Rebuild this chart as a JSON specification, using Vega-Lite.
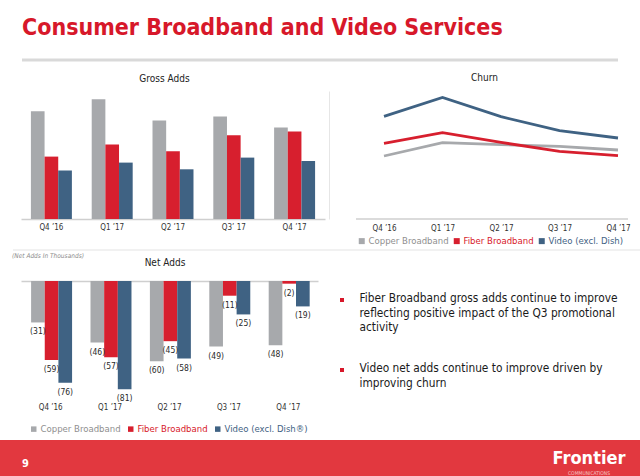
{
  "$schema": "https://vega.github.io/schema/vega-lite/v6.json",
  "background": "#ffffff",
  "padding": {"left": 0, "right": 0, "top": 16, "bottom": 0},
  "spacing": 0,
  "config": {
    "font": "DejaVu Sans Condensed, DejaVu Sans",
    "view": {"stroke": null},
    "title": {"fontWeight": "normal", "color": "#222222", "fontSize": 10},
    "axis": {"labelColor": "#333333", "labelFontSize": 8, "ticks": false, "tickSize": 0, "grid": false, "title": null, "domainColor": "#cfcfcf", "domainWidth": 1.5},
    "legend": {"title": null, "symbolType": "square", "symbolStrokeWidth": 0, "labelFontSize": 9.5, "labelOffset": 2, "columnPadding": 3, "direction": "horizontal", "orient": "none"},
    "concat": {"spacing": 0}
  },
  "datasets": {
    "gross": [
      {"quarter": "Q4 ’16", "series": "Copper Broadband", "value": 107.7},
      {"quarter": "Q4 ’16", "series": "Fiber Broadband", "value": 62.4},
      {"quarter": "Q4 ’16", "series": "Video (excl. Dish)", "value": 48.4},
      {"quarter": "Q1 ’17", "series": "Copper Broadband", "value": 119.7},
      {"quarter": "Q1 ’17", "series": "Fiber Broadband", "value": 74.4},
      {"quarter": "Q1 ’17", "series": "Video (excl. Dish)", "value": 56.4},
      {"quarter": "Q2 ’17", "series": "Copper Broadband", "value": 98.4},
      {"quarter": "Q2 ’17", "series": "Fiber Broadband", "value": 67.7},
      {"quarter": "Q2 ’17", "series": "Video (excl. Dish)", "value": 49.7},
      {"quarter": "Q3’ 17", "series": "Copper Broadband", "value": 102.4},
      {"quarter": "Q3’ 17", "series": "Fiber Broadband", "value": 83.7},
      {"quarter": "Q3’ 17", "series": "Video (excl. Dish)", "value": 61.4},
      {"quarter": "Q4 ’17", "series": "Copper Broadband", "value": 91.4},
      {"quarter": "Q4 ’17", "series": "Fiber Broadband", "value": 87.4},
      {"quarter": "Q4 ’17", "series": "Video (excl. Dish)", "value": 58.0}
    ],
    "churn": [
      {"quarter": "Q4 ’16", "series": "Copper Broadband", "value": 63.0},
      {"quarter": "Q1 ’17", "series": "Copper Broadband", "value": 76.3},
      {"quarter": "Q2 ’17", "series": "Copper Broadband", "value": 74.3},
      {"quarter": "Q3 ’17", "series": "Copper Broadband", "value": 72.6},
      {"quarter": "Q4 ’17", "series": "Copper Broadband", "value": 69.0},
      {"quarter": "Q4 ’16", "series": "Fiber Broadband", "value": 75.6},
      {"quarter": "Q1 ’17", "series": "Fiber Broadband", "value": 86.3},
      {"quarter": "Q2 ’17", "series": "Fiber Broadband", "value": 76.6},
      {"quarter": "Q3 ’17", "series": "Fiber Broadband", "value": 67.6},
      {"quarter": "Q4 ’17", "series": "Fiber Broadband", "value": 63.3},
      {"quarter": "Q4 ’16", "series": "Video (excl. Dish)", "value": 102.6},
      {"quarter": "Q1 ’17", "series": "Video (excl. Dish)", "value": 121.6},
      {"quarter": "Q2 ’17", "series": "Video (excl. Dish)", "value": 102.3},
      {"quarter": "Q3 ’17", "series": "Video (excl. Dish)", "value": 88.3},
      {"quarter": "Q4 ’17", "series": "Video (excl. Dish)", "value": 81.0}
    ],
    "net": [
      {"quarter": "Q4 ’16", "series": "Copper Broadband", "value": -31},
      {"quarter": "Q4 ’16", "series": "Fiber Broadband", "value": -59},
      {"quarter": "Q4 ’16", "series": "Video (excl. Dish)", "value": -76},
      {"quarter": "Q1 ’17", "series": "Copper Broadband", "value": -46},
      {"quarter": "Q1 ’17", "series": "Fiber Broadband", "value": -57},
      {"quarter": "Q1 ’17", "series": "Video (excl. Dish)", "value": -81},
      {"quarter": "Q2 ’17", "series": "Copper Broadband", "value": -60},
      {"quarter": "Q2 ’17", "series": "Fiber Broadband", "value": -45},
      {"quarter": "Q2 ’17", "series": "Video (excl. Dish)", "value": -58},
      {"quarter": "Q3 ’17", "series": "Copper Broadband", "value": -49},
      {"quarter": "Q3 ’17", "series": "Fiber Broadband", "value": -11},
      {"quarter": "Q3 ’17", "series": "Video (excl. Dish)", "value": -25},
      {"quarter": "Q4 ’17", "series": "Copper Broadband", "value": -48},
      {"quarter": "Q4 ’17", "series": "Fiber Broadband", "value": -2},
      {"quarter": "Q4 ’17", "series": "Video (excl. Dish)", "value": -19}
    ],
    "bullets": [
      {"item": 1, "text": "Fiber Broadband gross adds continue to improve\nreflecting positive impact of the Q3 promotional\nactivity"},
      {"item": 2, "text": "Video net adds continue to improve driven by\nimproving churn"}
    ]
  },
  "resolve": {"scale": {"color": "independent"}, "legend": {"color": "independent"}},
  "vconcat": [
    {
      "width": 640,
      "height": 12,
      "title": {"text": "Consumer Broadband and Video Services", "anchor": "start", "dx": 22, "fontSize": 23, "fontWeight": "bold", "color": "#d7182a", "baseline": "alphabetic", "offset": 1},
      "data": {"values": [{"start": 0, "end": 1}]},
      "mark": {"type": "rule", "color": "#d9d9d9", "strokeWidth": 3},
      "encoding": {
        "x": {"field": "start", "type": "quantitative", "scale": {"domain": [0, 1], "range": [22, 618]}, "axis": null},
        "x2": {"field": "end"},
        "y": {"datum": 1, "type": "quantitative", "scale": {"domain": [0, 1]}, "axis": null}
      }
    },
    {
      "spacing": 0,
      "resolve": {"scale": {"color": "independent"}, "legend": {"color": "independent"}},
      "hconcat": [
        {
          "width": 329,
          "height": 128,
          "title": {"text": "Gross Adds", "baseline": "alphabetic", "offset": -0.5},
          "data": {"name": "gross"},
          "mark": {"type": "bar"},
          "encoding": {
            "x": {"field": "quarter", "type": "nominal", "sort": null, "scale": {"range": [21, 325], "paddingInner": 0.326, "paddingOuter": 0.163}, "axis": {"labelAngle": 0, "labelPadding": 4}},
            "xOffset": {"field": "series", "type": "nominal", "sort": ["Copper Broadband", "Fiber Broadband", "Video (excl. Dish)"]},
            "y": {"field": "value", "type": "quantitative", "scale": {"domain": [0, 128], "nice": false}, "axis": null},
            "color": {"field": "series", "type": "nominal", "scale": {"domain": ["Copper Broadband", "Fiber Broadband", "Video (excl. Dish)"], "range": ["#a7a9ac", "#d71f2e", "#3f6283"]}, "legend": null}
          }
        },
        {
          "width": 311,
          "height": 128,
          "title": {"text": "Churn", "baseline": "alphabetic", "offset": 0.5},
          "data": {"name": "churn"},
          "resolve": {"scale": {"x": "independent"}},
          "layer": [
            {
              "data": {"values": [{"start": 0, "end": 1}]},
              "mark": {"type": "rule", "color": "#cfcfcf", "strokeWidth": 1.5},
              "encoding": {
                "x": {"field": "start", "type": "quantitative", "scale": {"domain": [0, 1], "range": [27, 299]}, "axis": null},
                "x2": {"field": "end"},
                "y": {"datum": 0, "type": "quantitative", "scale": {"domain": [0, 128], "nice": false}, "axis": {"orient": "left", "labels": false, "domain": true, "domainColor": "#e6e6e6", "domainWidth": 1}}
              }
            },
            {
              "mark": {"type": "line", "strokeWidth": 2.8},
              "encoding": {
                "x": {"field": "quarter", "type": "ordinal", "sort": null, "scale": {"type": "point", "range": [55, 289], "padding": 0}, "axis": {"labelAngle": 0, "domain": false, "labelPadding": 5}},
                "y": {"field": "value", "type": "quantitative", "axis": {"orient": "left", "labels": false, "domain": true, "domainColor": "#e6e6e6", "domainWidth": 1}},
                "color": {
                  "field": "series", "type": "nominal",
                  "scale": {"domain": ["Copper Broadband", "Fiber Broadband", "Video (excl. Dish)"], "range": ["#a7a9ac", "#d71f2e", "#3f6283"]},
                  "legend": {
                    "legendX": 28, "legendY": 145, "symbolSize": 36,
                    "encode": {
                      "symbols": {"update": {"fill": {"signal": "datum.value === 'Copper Broadband' ? '#a7a9ac' : datum.value === 'Fiber Broadband' ? '#d71f2e' : '#3f6283'"}, "stroke": {"value": "transparent"}, "opacity": {"value": 1}}},
                      "labels": {"update": {"fill": {"signal": "datum.value === 'Copper Broadband' ? '#8f8f8f' : datum.value === 'Fiber Broadband' ? '#d7182a' : '#3f6283'"}}}
                    }
                  }
                }
              }
            }
          ]
        }
      ]
    },
    {
      "width": 640,
      "height": 7,
      "data": {"values": [{"start": 0, "end": 1}]},
      "mark": {"type": "rule", "color": "#e3e3e3", "strokeWidth": 1},
      "encoding": {
        "x": {"field": "start", "type": "quantitative", "scale": {"domain": [0, 1], "range": [13, 640]}, "axis": null},
        "x2": {"field": "end"},
        "y": {"datum": 3, "type": "quantitative", "scale": {"domain": [0, 7]}, "axis": null}
      }
    },
    {
      "title": {"text": "(Net Adds In Thousands)", "anchor": "start", "dx": 12, "fontSize": 6.5, "fontStyle": "italic", "color": "#8a8a8a", "baseline": "alphabetic", "offset": -7},
      "spacing": 0,
      "resolve": {"scale": {"color": "independent"}, "legend": {"color": "independent"}},
      "hconcat": [
        {
          "width": 340,
          "height": 115,
          "title": {"text": "Net Adds", "baseline": "alphabetic", "offset": 5.5, "dx": -5},
          "data": {"name": "net"},
          "resolve": {"axis": {"x": "independent"}},
          "layer": [
            {
              "mark": {"type": "bar"},
              "encoding": {
                "x": {"field": "quarter", "type": "nominal", "sort": null, "scale": {"range": [21, 318], "paddingInner": 0.34, "paddingOuter": 0.17}, "axis": {"labelAngle": 0, "domain": false, "labelPadding": 7}},
                "xOffset": {"field": "series", "type": "nominal", "sort": ["Copper Broadband", "Fiber Broadband", "Video (excl. Dish)"]},
                "y": {"field": "value", "type": "quantitative", "scale": {"domain": [-86, 0], "nice": false}, "axis": null},
                "color": {
                  "field": "series", "type": "nominal",
                  "scale": {"domain": ["Copper Broadband", "Fiber Broadband", "Video (excl. Dish)"], "range": ["#a7a9ac", "#d71f2e", "#3f6283"]},
                  "legend": {
                    "legendX": 29, "legendY": 143, "symbolSize": 30, "columnPadding": 5,
                    "labelExpr": "datum.label === 'Video (excl. Dish)' ? 'Video (excl. Dish®)' : datum.label",
                    "encode": {
                      "labels": {"update": {"fill": {"signal": "datum.value === 'Copper Broadband' ? '#8f8f8f' : datum.value === 'Fiber Broadband' ? '#d7182a' : '#3f6283'"}}}
                    }
                  }
                }
              }
            },
            {
              "mark": {"type": "text", "baseline": "top", "dy": 5, "fontSize": 8.5, "color": "#2a2a2a"},
              "encoding": {
                "x": {"field": "quarter", "type": "nominal", "sort": null, "axis": {"orient": "top", "labels": false, "domain": true}},
                "xOffset": {"field": "series", "type": "nominal", "sort": ["Copper Broadband", "Fiber Broadband", "Video (excl. Dish)"]},
                "y": {"field": "value", "type": "quantitative"},
                "text": {"field": "value", "type": "quantitative", "format": "(d"}
              }
            }
          ]
        },
        {
          "width": 300,
          "height": 159,
          "data": {"name": "bullets"},
          "layer": [
            {
              "mark": {"type": "square", "size": 16, "color": "#d7182a", "filled": true, "opacity": 1},
              "encoding": {
                "x": {"datum": 0, "type": "quantitative", "scale": {"domain": [0, 1]}, "axis": null},
                "y": {"field": "item", "type": "ordinal", "scale": {"type": "point", "range": [19, 89], "padding": 0}, "axis": null}
              }
            },
            {
              "mark": {"type": "text", "align": "left", "baseline": "top", "dx": 17.5, "dy": -7, "fontSize": 11.8, "lineHeight": 14.5, "lineBreak": "\n", "color": "#1a1a1a"},
              "encoding": {
                "x": {"datum": 0, "type": "quantitative"},
                "y": {"field": "item", "type": "ordinal"},
                "text": {"field": "text"}
              }
            }
          ]
        }
      ]
    },
    {
      "width": 640,
      "height": 37,
      "view": {"fill": "#e2383f", "stroke": null},
      "layer": [
        {
          "data": {"values": [{"slot": "page", "label": "9"}]},
          "mark": {"type": "text", "color": "#ffffff", "fontWeight": "bold", "fontSize": 11, "align": "left", "dy": 5},
          "encoding": {
            "x": {"field": "slot", "type": "nominal", "scale": {"type": "point", "domain": ["page", "logo"], "range": [22, 589], "padding": 0}, "axis": null},
            "text": {"field": "label"}
          }
        },
        {
          "data": {"values": [{"slot": "logo", "label": "Frontier"}]},
          "mark": {"type": "text", "color": "#ffffff", "fontWeight": "bold", "fontSize": 18, "dy": 0},
          "encoding": {
            "x": {"field": "slot", "type": "nominal"},
            "text": {"field": "label"}
          }
        },
        {
          "data": {"values": [{"slot": "logo", "label": "COMMUNICATIONS"}]},
          "mark": {"type": "text", "color": "#f6c6c8", "fontSize": 5, "dy": 14},
          "encoding": {
            "x": {"field": "slot", "type": "nominal"},
            "text": {"field": "label"}
          }
        }
      ]
    }
  ]
}
